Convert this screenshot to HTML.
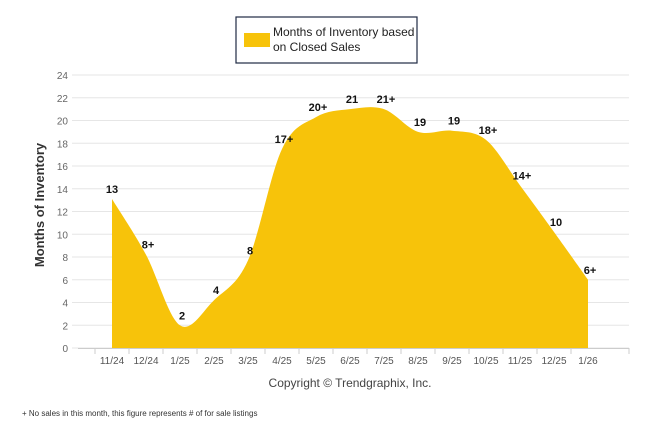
<!DOCTYPE html>
<html><head><meta charset="utf-8"><style>
body{margin:0;background:#fff;width:646px;height:434px;overflow:hidden;font-family:"Liberation Sans",sans-serif}
</style></head><body>
<svg width="646" height="434">
<g id="grid"></g>
<path id="area" fill="#f7c30a"></path>
<g id="labels"></g>
<g id="axis"></g>
<rect x="236" y="17" width="181" height="46" fill="#fff" stroke="#1f2a44" stroke-width="1.2"/>
<rect x="244" y="33" width="26" height="14" fill="#f7c30a"/>
<text x="273" y="36" font-size="12" fill="#222">Months of Inventory based</text>
<text x="273" y="51" font-size="12" fill="#222">on Closed Sales</text>
<text transform="translate(44,205) rotate(-90)" text-anchor="middle" font-size="13" font-weight="bold" fill="#333">Months of Inventory</text>
<text x="350" y="387" text-anchor="middle" font-size="12" fill="#444">Copyright © Trendgraphix, Inc.</text>
<text x="22" y="416" font-size="8" fill="#333">+ No sales in this month, this figure represents # of for sale listings</text>
</svg>
<script>
const categories=["11/24","12/24","1/25","2/25","3/25","4/25","5/25","6/25","7/25","8/25","9/25","10/25","11/25","12/25","1/26"];
const values=[13.1,8.2,2.0,4.2,7.7,17.5,20.3,21.0,21.0,19.0,19.1,18.3,14.3,10.2,6.0];
const pointLabels=["13","8+","2","4","8","17+","20+","21","21+","19","19","18+","14+","10","6+"];
const yTicks=[0,2,4,6,8,10,12,14,16,18,20,22,24];
const NS="http://www.w3.org/2000/svg";
const x=i=>112+i*34;
const y=v=>348-v*273/24;
function mk(t,a,p){const e=document.createElementNS(NS,t);for(const k in a)e.setAttribute(k,a[k]);p.appendChild(e);return e;}
const grid=document.getElementById('grid'),axis=document.getElementById('axis'),labs=document.getElementById('labels');
yTicks.forEach(t=>{
 const l=mk('line',{x1:72,x2:629,y1:y(t),y2:y(t),stroke:'#e6e6e6'},grid);
 
 
 const tx=mk('text',{x:68,y:y(t)+4,'text-anchor':'end','font-size':10,fill:'#666'},axis);
 tx.textContent=t;
 
 
});
mk('line',{x1:78,x2:629,y1:348.5,y2:348.5,stroke:'#ccc'},axis);
categories.forEach((c,i)=>{
 mk('line',{x1:x(i)-17,x2:x(i)-17,y1:348,y2:354,stroke:'#ccc'},axis);
 const tx=mk('text',{x:x(i),y:364,'text-anchor':'middle','font-size':10,fill:'#555'},axis);
 tx.textContent=c;
 
 
});
mk('line',{x1:629,x2:629,y1:348,y2:354,stroke:'#ccc'},axis);
const P=values.map((v,i)=>[x(i),y(v)]);
let d=`M${P[0][0]},${y(0)}L${P[0][0]},${P[0][1]}`;
for(let i=0;i<P.length-1;i++){
 const p0=P[Math.max(0,i-1)],p1=P[i],p2=P[i+1],p3=P[Math.min(P.length-1,i+2)];
 const c1=[p1[0]+(p2[0]-p0[0])/6,p1[1]+(p2[1]-p0[1])/6];
 const c2=[p2[0]-(p3[0]-p1[0])/6,p2[1]-(p3[1]-p1[1])/6];
 d+=`C${c1[0]},${c1[1]} ${c2[0]},${c2[1]} ${p2[0]},${p2[1]}`;
}
d+=`L${P[P.length-1][0]},${y(0)}Z`;
document.getElementById('area').setAttribute('d',d);
values.forEach((v,i)=>{
 const tx=mk('text',{x:x(i)+(i==0?0:2),y:y(v)-6,'text-anchor':'middle','font-size':11,'font-weight':'bold',fill:'#111'},labs);
 tx.textContent=pointLabels[i];
 
 
});
</script>
</body></html>
